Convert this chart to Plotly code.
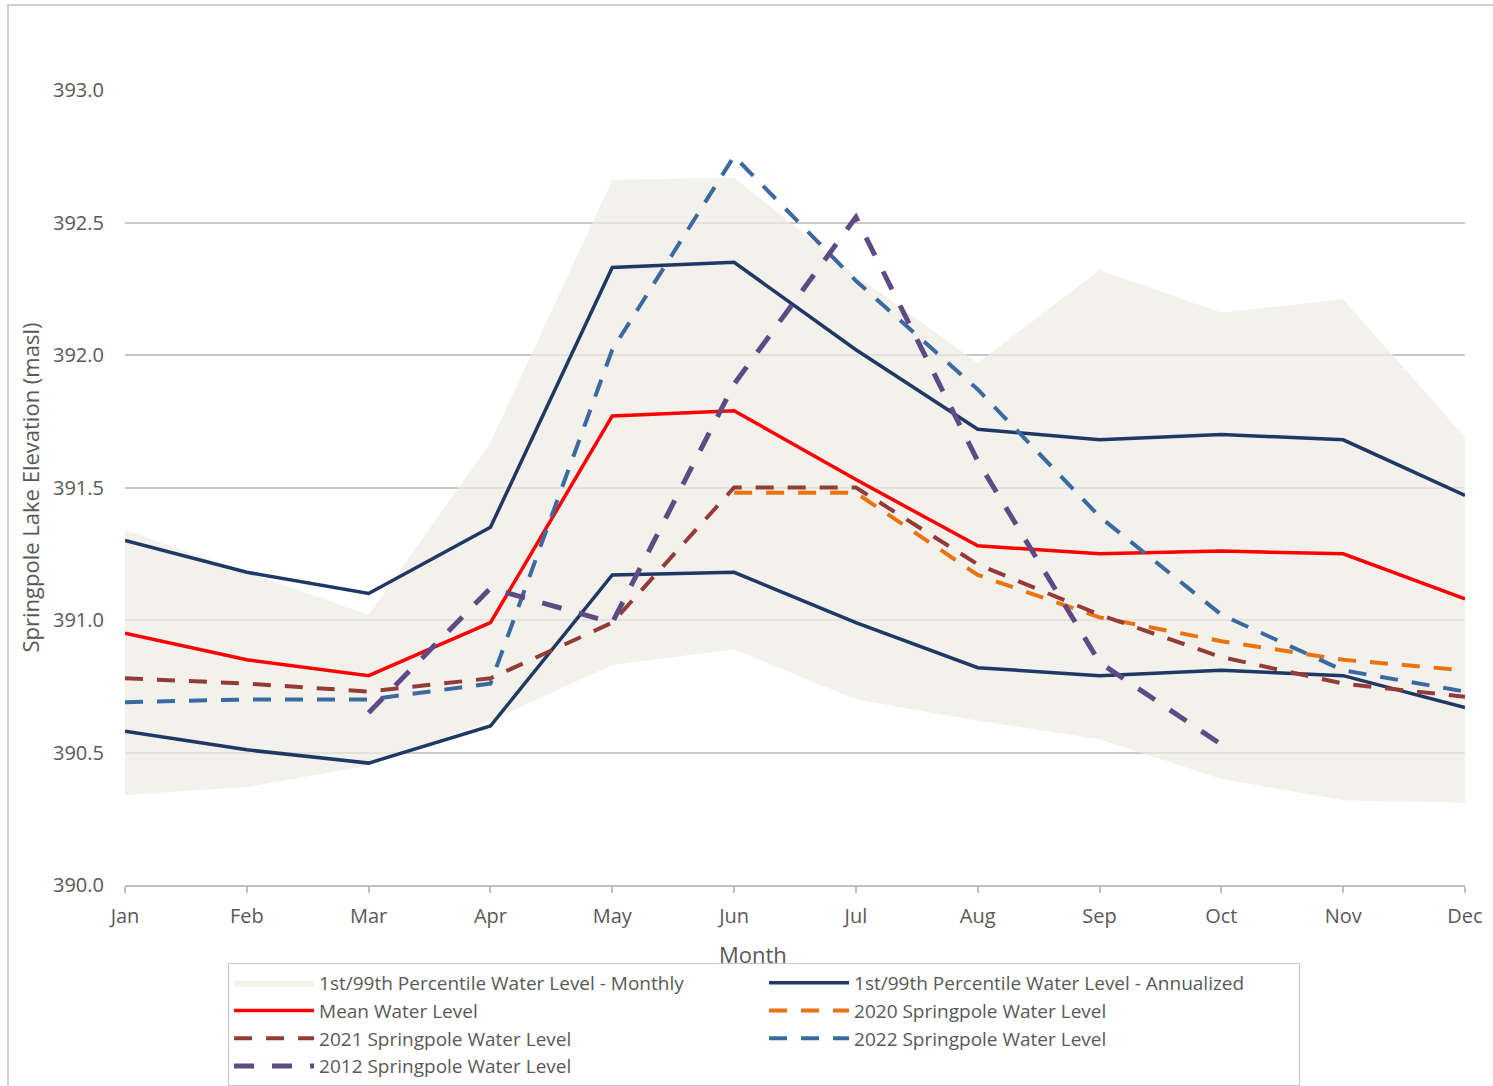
import plotly.graph_objects as go

# Monthly water levels at Springpole Lake (m above sea level)
months = ["Jan", "Feb", "Mar", "Apr", "May", "Jun", "Jul", "Aug", "Sep", "Oct", "Nov", "Dec"]

pct_monthly_upper = [391.34, 391.18, 391.02, 391.67, 392.66, 392.67, 392.30, 391.97, 392.32, 392.16, 392.21, 391.69]
pct_monthly_lower = [390.34, 390.37, 390.45, 390.62, 390.83, 390.89, 390.70, 390.62, 390.55, 390.40, 390.32, 390.31]

pct_annual_upper = [391.30, 391.18, 391.10, 391.35, 392.33, 392.35, 392.02, 391.72, 391.68, 391.70, 391.68, 391.47]
pct_annual_lower = [390.58, 390.51, 390.46, 390.60, 391.17, 391.18, 390.99, 390.82, 390.79, 390.81, 390.79, 390.67]

mean_level = [390.95, 390.85, 390.79, 390.99, 391.77, 391.79, 391.53, 391.28, 391.25, 391.26, 391.25, 391.08]

level_2020 = [None, None, None, None, None, 391.48, 391.48, 391.17, 391.01, 390.92, 390.85, 390.81]
level_2021 = [390.78, 390.76, 390.73, 390.78, 390.99, 391.50, 391.50, 391.21, 391.02, 390.86, 390.76, 390.71]
level_2022 = [390.69, 390.70, 390.70, 390.76, 392.02, 392.75, 392.28, 391.87, 391.39, 391.02, 390.81, 390.73]
level_2012 = [None, None, 390.65, 391.12, 390.99, 391.89, 392.52, 391.60, 390.84, 390.53, None, None]

y_ticks = [390.0, 390.5, 391.0, 391.5, 392.0, 392.5, 393.0]

x = list(range(len(months)))
FONT = "Open Sans"
TEXT_GREY = "#595959"
NAVY = "#1f3864"

fig = go.Figure()

# shaded monthly percentile envelope
fig.add_trace(go.Scatter(x=x, y=pct_monthly_lower, mode="lines", line=dict(width=0),
                         showlegend=False, hoverinfo="skip"))
fig.add_trace(go.Scatter(x=x, y=pct_monthly_upper, mode="lines", line=dict(width=0),
                         fill="tonexty", fillcolor="rgba(238,236,228,0.72)",
                         name="1st/99th Percentile Water Level - Monthly", legendrank=1))

# annualized percentile lines
fig.add_trace(go.Scatter(x=x, y=pct_annual_upper, mode="lines", line=dict(color=NAVY, width=3.5),
                         name="1st/99th Percentile Water Level - Annualized",
                         legendgroup="annual", legendrank=2))
fig.add_trace(go.Scatter(x=x, y=pct_annual_lower, mode="lines", line=dict(color=NAVY, width=3.5),
                         legendgroup="annual", showlegend=False))

fig.add_trace(go.Scatter(x=x, y=mean_level, mode="lines", line=dict(color="#ff0000", width=3.5),
                         name="Mean Water Level", legendrank=3))

fig.add_trace(go.Scatter(x=x, y=level_2020, mode="lines",
                         line=dict(color="#e8730f", width=4, dash="18px,14px"),
                         name="2020 Springpole Water Level", legendrank=4))
fig.add_trace(go.Scatter(x=x, y=level_2021, mode="lines",
                         line=dict(color="#943b38", width=4, dash="18px,14px"),
                         name="2021 Springpole Water Level", legendrank=5))
fig.add_trace(go.Scatter(x=x, y=level_2022, mode="lines",
                         line=dict(color="#3a6a9f", width=4, dash="18px,14px"),
                         name="2022 Springpole Water Level", legendrank=6))
fig.add_trace(go.Scatter(x=x, y=level_2012, mode="lines",
                         line=dict(color="#5e4a85", width=5, dash="20px,18px"),
                         name="2012 Springpole Water Level", legendrank=7))

fig.update_layout(
    width=1493, height=1086,
    margin=dict(l=125, r=28, t=90, b=201, autoexpand=False),
    paper_bgcolor="white", plot_bgcolor="white",
    font=dict(family=FONT, color=TEXT_GREY, size=20),
    showlegend=True,
    legend=dict(
        orientation="h", x=0.0769, y=-0.0981, xanchor="left", yanchor="top",
        entrywidth=440, entrywidthmode="pixels", itemwidth=80,
        bordercolor="#c8c8c8", borderwidth=1, bgcolor="white",
        font=dict(family=FONT, size=19, color=TEXT_GREY),
        traceorder="normal",
    ),
    xaxis=dict(
        range=[0, 11], tickmode="array", tickvals=x, ticktext=months,
        showgrid=False, zeroline=False,
        showline=True, linecolor="#bfbfbf", linewidth=1.5,
        ticks="outside", ticklen=6, tickcolor="#bfbfbf", tickwidth=1.5,
        ticklabelstandoff=6,
        tickfont=dict(family=FONT, size=20, color=TEXT_GREY),
    ),
    yaxis=dict(
        range=[390, 393], tickmode="array", tickvals=y_ticks,
        ticktext=[f"{v:.1f}" for v in y_ticks],
        showgrid=True, gridcolor="#c8c8c8", gridwidth=1.5,
        zeroline=False, showline=False, ticks="",
        ticklabelstandoff=20,
        tickfont=dict(family=FONT, size=20, color=TEXT_GREY),
    ),
    annotations=[
        dict(text="Month", xref="paper", yref="paper", x=0.4687, y=-0.0868,
             xanchor="center", yanchor="middle", showarrow=False,
             font=dict(family=FONT, size=22, color=TEXT_GREY)),
        dict(text="Springpole Lake Elevation (masl)", xref="paper", yref="paper",
             x=-0.0709, y=0.5, xanchor="center", yanchor="middle", textangle=-90,
             showarrow=False, font=dict(family=FONT, size=22, color=TEXT_GREY)),
    ],
    shapes=[
        dict(type="rect", xref="paper", yref="paper", x0=-0.0873, x1=1.2, y0=-0.5, y1=1.107,
             line=dict(color="#d0d0d0", width=2), fillcolor="rgba(0,0,0,0)", layer="below"),
    ],
)

fig.write_html("out.html")
